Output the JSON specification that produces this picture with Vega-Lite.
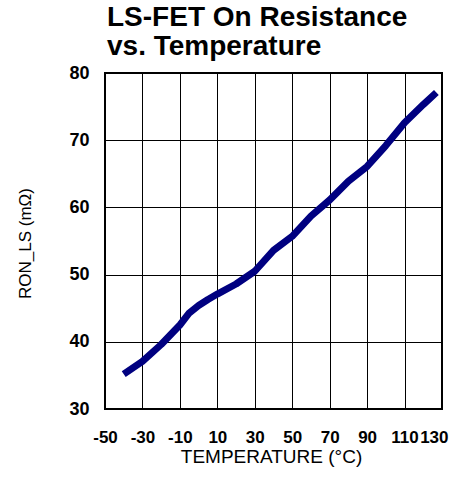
{
  "$schema": "https://vega.github.io/schema/vega-lite/v6.json",
  "width": 337,
  "height": 336,
  "autosize": {"type": "none"},
  "padding": {"left": 105, "top": 73, "right": 10, "bottom": 69},
  "background": "white",
  "title": {
    "text": ["LS-FET On Resistance", "vs. Temperature"],
    "anchor": "start",
    "frame": "group",
    "font": "Liberation Sans",
    "fontSize": 28,
    "fontWeight": "bold",
    "color": "black",
    "lineHeight": 29,
    "dx": 2,
    "offset": 3
  },
  "config": {
    "view": {"stroke": "black", "strokeWidth": 2},
    "axis": {
      "domain": false,
      "ticks": false,
      "grid": true,
      "gridColor": "black",
      "gridWidth": 1,
      "gridOpacity": 1,
      "labelFont": "Liberation Sans",
      "labelFontWeight": "bold",
      "labelFontSize": 17,
      "labelColor": "black",
      "labelOverlap": false,
      "labelFlush": false,
      "labelBound": false,
      "labelExpr": "'' + datum.value",
      "titleFont": "Liberation Sans",
      "titleFontWeight": "normal",
      "titleColor": "black"
    }
  },
  "data": {
    "values": [
      {"temp": -40, "ron": 35.2},
      {"temp": -30, "ron": 37.1},
      {"temp": -20, "ron": 39.6},
      {"temp": -10, "ron": 42.5},
      {"temp": -5, "ron": 44.3},
      {"temp": 0, "ron": 45.4},
      {"temp": 5, "ron": 46.3},
      {"temp": 10, "ron": 47.1},
      {"temp": 20, "ron": 48.6},
      {"temp": 30, "ron": 50.5},
      {"temp": 40, "ron": 53.6},
      {"temp": 50, "ron": 55.7},
      {"temp": 60, "ron": 58.7},
      {"temp": 70, "ron": 61.1},
      {"temp": 80, "ron": 63.9},
      {"temp": 90, "ron": 66.1},
      {"temp": 100, "ron": 69.2},
      {"temp": 110, "ron": 72.6},
      {"temp": 120, "ron": 75.3},
      {"temp": 127, "ron": 77.1}
    ]
  },
  "mark": {"type": "line", "color": "#000080", "strokeWidth": 7, "strokeCap": "butt", "strokeJoin": "round"},
  "encoding": {
    "x": {
      "field": "temp",
      "type": "quantitative",
      "scale": {"domain": [-50, 130], "nice": false, "zero": false},
      "axis": {
        "values": [-50, -30, -10, 10, 30, 50, 70, 90, 110, 130],
        "labelPadding": 20,
        "labelAlign": {"condition": {"test": "datum.value == 130", "value": "right"}, "value": "center"},
        "labelOffset": {"condition": {"test": "datum.value == 130", "value": 6}, "value": 0},
        "title": "TEMPERATURE (°C)",
        "titleFontSize": 19,
        "titleX": 166,
        "titleY": 47,
        "titleAlign": "center",
        "titleBaseline": "middle"
      }
    },
    "y": {
      "field": "ron",
      "type": "quantitative",
      "scale": {"domain": [30, 80], "nice": false, "zero": false},
      "axis": {
        "values": [30, 40, 50, 60, 70, 80],
        "labelPadding": 16,
        "labelBaseline": "middle",
        "labelFontSize": 18,
        "title": "RON_LS (mΩ)",
        "titleFontSize": 17,
        "titleAngle": 270,
        "titleX": -80,
        "titleY": 170,
        "titleAlign": "center",
        "titleBaseline": "middle"
      }
    }
  }
}
